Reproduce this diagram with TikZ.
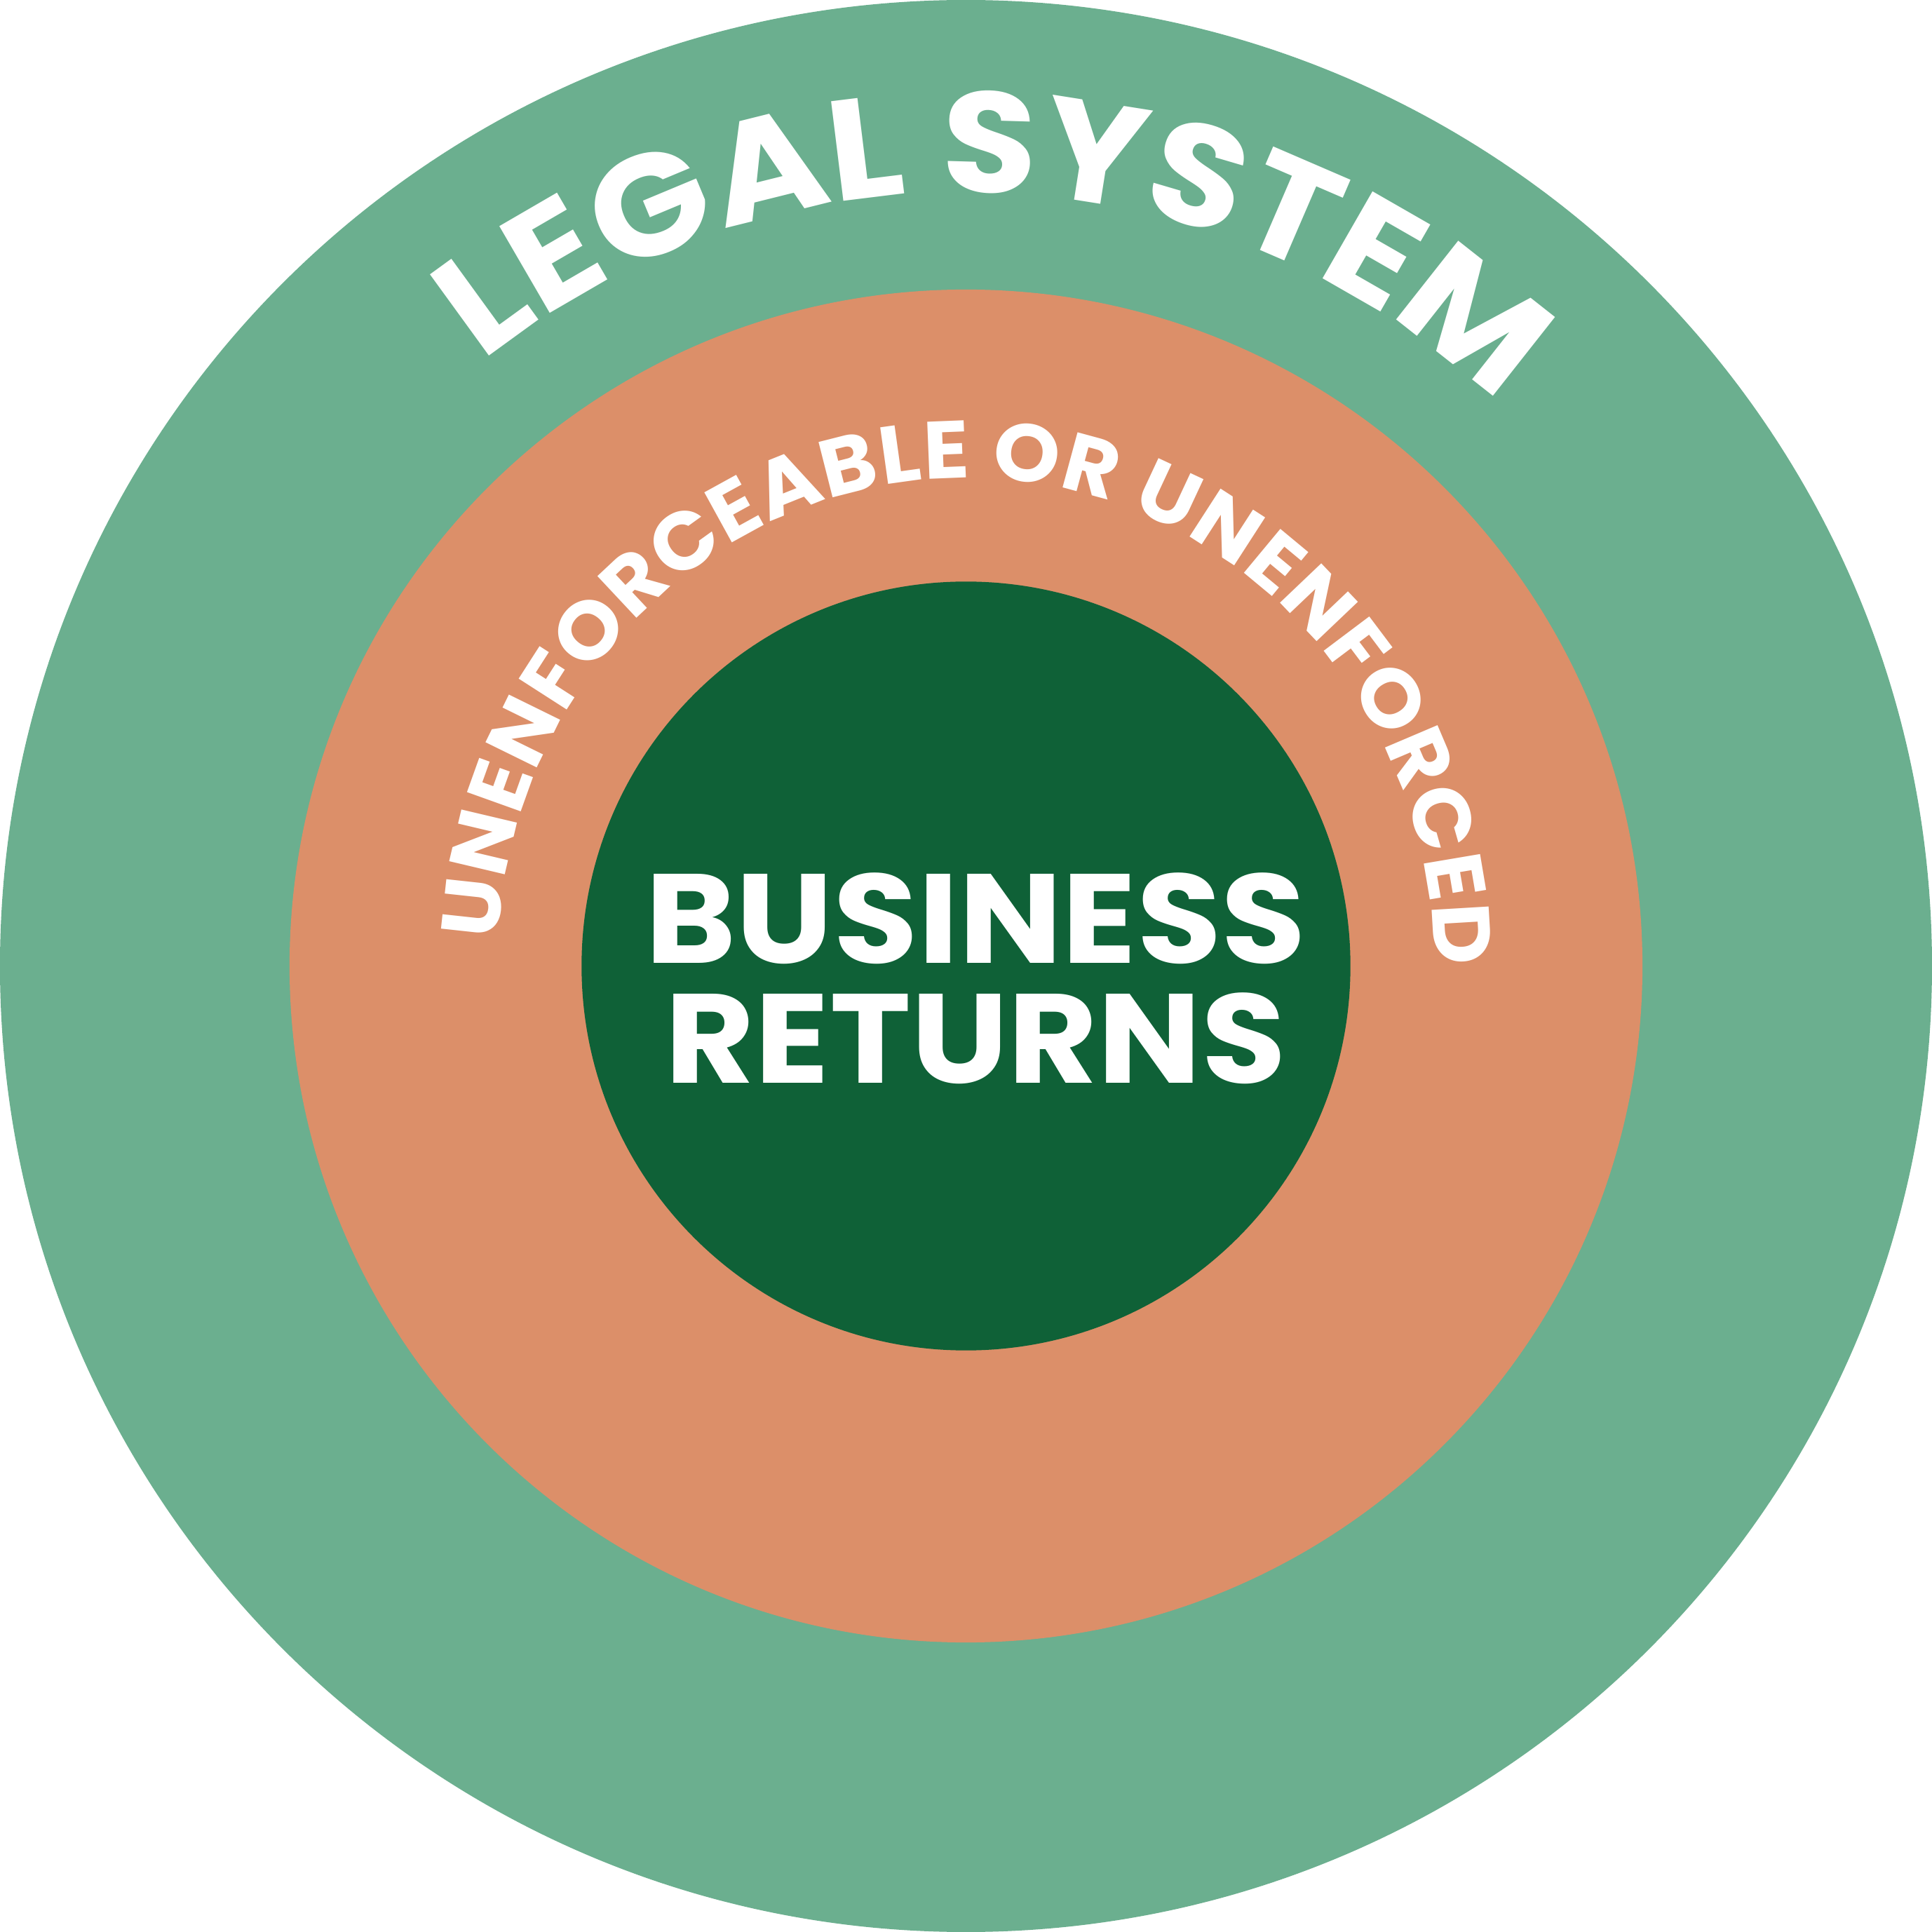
\documentclass[tikz,border=0pt]{standalone}
\usepackage{fontspec}
\setmainfont{Poppins}[FakeStretch=1.085]
\newfontfamily\ringfont{Poppins}[FakeStretch=1.04]
\usetikzlibrary{decorations.text}
\definecolor{legalgreen}{HTML}{6BAF8F}
\definecolor{gapsalmon}{HTML}{DC8F69}
\definecolor{businessgreen}{HTML}{0F6137}

\begin{document}
\begin{tikzpicture}[x=1pt, y=1pt,
        ringtext/.style={decoration={text along path, text color=white,
            text format delimiters={|}{|}, text align={fit to path}}, decorate}]
        \useasboundingbox (-784, -784) rectangle (784, 784);
        % Rings
        \fill[legalgreen] (0, 0) circle (784pt);
        \fill[gapsalmon] (0, 0) circle (549pt);
        \fill[businessgreen] (0, 0) circle (312pt);
        % Curved labels
        \path[ringtext, decoration={text={|\fontsize{116}{116}\selectfont\bfseries|LEGAL SYSTEM}}]
            (128.7:628pt) arc[start angle=128.7, end angle=48, radius=628pt];
        \path[ringtext, decoration={text={|\ringfont\fontsize{66}{66}\selectfont\bfseries|UNENFORCEABLE OR UNENFORCED}}]
            (177:380pt and 396pt) arc[start angle=177, end angle=0, x radius=380pt, y radius=396pt];
        % Center label
        \node[text=white, align=center, inner sep=0pt, font=\fontsize{103}{97}\selectfont\bfseries]
            (returns) at (8, -10) {BUSINESS\\RETURNS};
\end{tikzpicture}
\end{document}
